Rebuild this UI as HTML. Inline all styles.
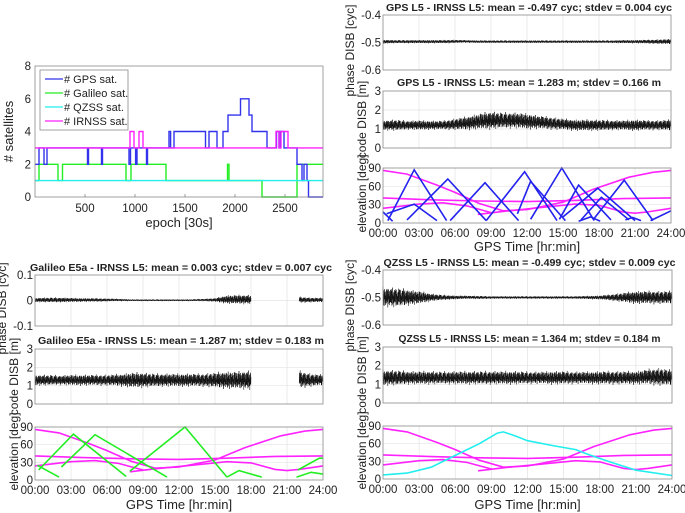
<!DOCTYPE html>
<html><head><meta charset="utf-8"><style>
html,body{margin:0;padding:0;background:#fff;}
svg{display:block;font-family:"Liberation Sans",Arial,sans-serif;}
</style></head><body>
<svg id="fig" width="685" height="513" viewBox="0 0 685 513" xmlns="http://www.w3.org/2000/svg"></svg>
<script>
// ---------- satellite count data (epoch, value) ----------
const epochTicks = [500,1000,1500,2000,2500];
const satTicks = [0,2,4,6,8];
const gpsSteps = [[0,2],[40,3],[90,2],[120,3],[525,2],[535,3],[665,2],[675,3],[940,2],[955,3],[1006,2],[1020,3],[1115,2],[1125,3],[1340,4],[1356,3],[1390,4],[1705,3],[1740,4],[1820,3],[1880,4],[1930,5],[2055,6],[2140,5],[2170,4],[2320,3],[2415,4],[2440,3],[2455,4],[2490,3],[2620,2],[2670,1],[2690,2],[2720,1],[2735,0]];
const galSteps = [[0,1],[40,2],[230,1],[275,2],[910,1],[960,2],[1310,1],[1925,2],[1940,1],[2270,0],[2620,2]];
const qzsSteps = [[0,1]];
const irnSteps = [[0,3],[950,4],[990,3],[1040,4],[1080,3],[2410,4],[2440,3],[2460,4],[2530,3]];

// ---------- DISB envelopes (hourly 0..24): centre and half-width; null = gap ----------
const hours = [0,1,2,3,4,5,6,7,8,9,10,11,12,13,14,15,16,17,18,19,20,21,22,23,24];
const gpsPhaseC = [-0.497,-0.497,-0.497,-0.497,-0.497,-0.497,-0.496,-0.496,-0.497,-0.497,-0.497,-0.497,-0.497,-0.497,-0.497,-0.497,-0.497,-0.497,-0.497,-0.497,-0.497,-0.497,-0.497,-0.497,-0.497];
const gpsPhaseW = [0.006,0.005,0.005,0.005,0.005,0.005,0.005,0.004,0.004,0.004,0.004,0.004,0.004,0.004,0.004,0.004,0.004,0.004,0.004,0.004,0.005,0.005,0.006,0.007,0.008];
const gpsCodeC = [1.2,1.2,1.2,1.2,1.2,1.2,1.25,1.3,1.4,1.45,1.45,1.45,1.4,1.35,1.3,1.25,1.2,1.2,1.2,1.2,1.2,1.2,1.2,1.2,1.2];
const gpsCodeW = [0.22,0.25,0.2,0.22,0.2,0.2,0.25,0.3,0.35,0.4,0.35,0.35,0.35,0.3,0.28,0.25,0.25,0.25,0.25,0.22,0.22,0.25,0.22,0.22,0.25];
const galPhaseC = [0.002,0.002,0.002,0.002,0.002,0.002,0.002,0.002,0.001,0.001,0.001,0.001,0.001,0.001,0.002,0.002,0.004,0.004,0.004,null,null,null,0.003,0.002,0.002];
const galPhaseW = [0.007,0.008,0.008,0.007,0.006,0.006,0.005,0.004,0.003,0.003,0.003,0.003,0.003,0.003,0.004,0.006,0.014,0.015,0.015,null,null,null,0.01,0.008,0.007];
const galCodeC = [1.3,1.3,1.3,1.3,1.3,1.3,1.3,1.3,1.3,1.3,1.3,1.3,1.3,1.3,1.3,1.3,1.3,1.3,1.3,null,null,null,1.35,1.3,1.3];
const galCodeW = [0.25,0.25,0.22,0.25,0.25,0.25,0.25,0.28,0.35,0.35,0.3,0.3,0.3,0.3,0.3,0.35,0.4,0.4,0.45,null,null,null,0.4,0.3,0.25];
const qzsPhaseC = [-0.498,-0.5,-0.5,-0.5,-0.5,-0.5,-0.5,-0.499,-0.5,-0.5,-0.5,-0.5,-0.5,-0.5,-0.5,-0.5,-0.5,-0.5,-0.5,-0.5,-0.5,-0.5,-0.5,-0.5,-0.5];
const qzsPhaseW = [0.03,0.03,0.025,0.02,0.012,0.008,0.006,0.005,0.005,0.004,0.004,0.004,0.004,0.004,0.004,0.004,0.004,0.005,0.006,0.01,0.015,0.02,0.02,0.02,0.02];
const qzsCodeC = [1.35,1.35,1.35,1.35,1.35,1.35,1.35,1.35,1.35,1.35,1.35,1.35,1.35,1.35,1.35,1.35,1.35,1.35,1.35,1.35,1.35,1.35,1.4,1.4,1.35];
const qzsCodeW = [0.35,0.35,0.3,0.3,0.3,0.28,0.3,0.3,0.3,0.3,0.3,0.3,0.28,0.28,0.3,0.3,0.28,0.28,0.3,0.3,0.3,0.3,0.35,0.4,0.35];

// ---------- elevation arcs [hour, deg] ----------
const timeTicks = [0,3,6,9,12,15,18,21,24];
const timeLabels = ["00:00","03:00","06:00","09:00","12:00","15:00","18:00","21:00","24:00"];
const elevTicks = [0,30,60,90];
const gpsArcs = [
 [[0,18],[0.8,3]],
 [[0.4,4],[2.6,87],[5.3,4]],
 [[0.3,15],[2.6,31],[4.5,4]],
 [[2.0,5],[5.4,72],[8.6,4]],
 [[5.6,4],[8.5,66],[11.3,4]],
 [[8.6,4],[11.8,84],[14.5,4]],
 [[11.2,15],[12.3,68],[15.2,4]],
 [[12.3,6],[14.9,90],[17.6,4]],
 [[14.7,6],[16.3,62],[19.0,5]],
 [[15.0,10],[17.9,57],[21.0,4]],
 [[16.5,5],[18.2,42],[20.5,5]],
 [[17.5,5],[20.1,70],[22.5,4]],
 [[16.3,3],[17.3,10],[18.1,3]],
 [[20.2,5],[20.8,9],[21.5,4]],
 [[22.3,4],[24,20]]
];
const galArcs = [
 [[0.3,17],[3.2,78],[7.6,6]],
 [[0.2,25],[2.0,5]],
 [[2.2,22],[5.0,77],[11.0,5]],
 [[7.9,15],[12.5,90],[16.0,5]],
 [[16.0,5],[17.0,16],[18.9,5]],
 [[21.9,17],[23.7,37],[24,37]],
 [[21.8,5],[23.0,13],[24,10]]
];
const qzsArcs = [
 [[0,7],[2,10],[4,20],[6,40],[8,60],[9.5,78],[10,80],[11,73],[12,65],[14,57],[16,50],[17,42],[19,28],[21,15],[24,6]]
];
const irnArcs = [
 [[0,86],[2,80],[4.5,62],[6,50],[8,32],[10,20],[12,22],[15,34],[17.5,55],[20.5,75],[22.5,83],[24,86]],
 [[0,41],[4,38],[8,36],[12,35],[16,37],[20,40],[24,41]],
 [[0,24],[3,31],[5,33],[7,28],[9,17]],
 [[7.9,14],[10,19],[13,25],[16,31],[18,29],[20,18],[21,16],[22,18],[24,24]]
];

// ---------- helpers ----------
const NS = "http://www.w3.org/2000/svg";
const fig = document.getElementById("fig");
const TICK = 11;
function el(tag, attrs, parent){
  const e = document.createElementNS(NS, tag);
  for (const k in attrs) e.setAttribute(k, attrs[k]);
  (parent||fig).appendChild(e);
  return e;
}
function txt(x,y,s,size,anchor,weight,rot){
  const t = el("text",{x:x,y:y,"font-size":size,"text-anchor":anchor||"middle","fill":"#222"});
  if(weight) t.setAttribute("font-weight",weight);
  if(rot) t.setAttribute("transform","rotate(-90 "+x+" "+y+")");
  t.textContent = s;
  return t;
}
function scale(d0,d1,r0,r1){ return v => r0 + (v-d0)/(d1-d0)*(r1-r0); }
function frame(x0,y0,x1,y1,name){
  const r = el("rect",{x:x0,y:y0,width:x1-x0,height:y1-y0,fill:"none",stroke:"#8a8a8a","stroke-width":0.8});
  
  
}
function timeGrid(x0,y0,x1,y1,yvals,ys,xs){
  const g = el("g",{stroke:"#e3e3e3","stroke-width":0.7});
  
  
  timeTicks.forEach(h=>{ if(h>0&&h<24) el("line",{x1:xs(h),x2:xs(h),y1:y0,y2:y1},g); });
  yvals.forEach(v=>{ const y=ys(v); if(y>y0+1&&y<y1-1) el("line",{x1:x0,x2:x1,y1:y,y2:y},g); });
}
function yTickLabels(x0,yvals,ys,labels){
  yvals.forEach((v,i)=>{
    const t = txt(x0-2, ys(v)+4, labels?labels[i]:String(v), TICK+0.5, "end");
    
    
  });
}
const jitter=[1,-0.55,0.8,-1,0.35,-0.85,0.95,-0.25,0.6,-0.7,0.15,-0.95,0.7,-0.45,0.9,-0.6,0.3];
function noise(xs,ys,C,W,name){
  let d=""; let pen=false; let i=0;
  for(let t=0;t<=24.0001;t+=0.02){
    const k=Math.min(23,Math.floor(t)); const f=t-k;
    const c0=C[k],c1=C[k+1],w0=W[k],w1=W[k+1];
    if(c0===null||c1===null){ pen=false; i++; continue; }
    const c=c0+(c1-c0)*f, w=w0+(w1-w0)*f;
    const m=jitter[i%17]*(i%5===0?1.25:1);
    const y=ys(c+w*m);
    d += (pen?"L":"M")+xs(t).toFixed(1)+","+y.toFixed(1);
    pen=true; i++;
  }
  const p = el("path",{d:d,fill:"none",stroke:"#111","stroke-width":0.5});
  
  
}
function arcs(xs,ys,list,color,name){
  list.forEach(a=>{
    const p = el("polyline",{points:a.map(q=>xs(q[0]).toFixed(1)+","+ys(q[1]).toFixed(1)).join(" "),fill:"none",stroke:color,"stroke-width":1.6});
    
    
  });
}
function timePanel(X0,X1,P,titleP,titleC,phC,phW,phT,phL,coC,coW,arcSets,ticksY,xlabY,tw1,tw2){
  const xs = scale(0,24,X0,X1);
  let ys = scale(phT[0],phT[2],P[1],P[0]);
  timeGrid(X0,P[0],X1,P[1],phT,ys,xs);
  noise(xs,ys,phC,phW,'phase-disb-series');
  frame(X0,P[0],X1,P[1],'phase-disb-axes');
  yTickLabels(X0,phT,ys,phL);
  let t = txt((X0+X1)/2+2,P[0]-4,titleP,10.5,"middle","bold");
  t.setAttribute("textLength",tw1); t.setAttribute("lengthAdjust","spacingAndGlyphs");
  
  
  t = txt(X0-29,(P[0]+P[1])/2+8,"phase DISB [cyc]",12,"middle",null,true);
  
  
  const codeT=[0,1,2,3];
  ys = scale(0,3,P[3],P[2]);
  timeGrid(X0,P[2],X1,P[3],codeT,ys,xs);
  noise(xs,ys,coC,coW,'code-disb-series');
  frame(X0,P[2],X1,P[3],'code-disb-axes');
  yTickLabels(X0,codeT,ys);
  t = txt((X0+X1)/2+2,P[2]-5,titleC,10.5,"middle","bold");
  t.setAttribute("textLength",tw2); t.setAttribute("lengthAdjust","spacingAndGlyphs");
  
  
  t = txt(X0-17,(P[2]+P[3])/2,"code DISB [m]",12,"middle",null,true);
  
  
  ys = scale(0,90,P[5],P[4]);
  timeGrid(X0,P[4],X1,P[5],elevTicks,ys,xs);
  arcSets.forEach(s=>arcs(xs,ys,s[0],s[1],s[2]));
  frame(X0,P[4],X1,P[5],'elevation-axes');
  yTickLabels(X0,elevTicks,ys);
  t = txt(X0-17,(P[4]+P[5])/2-2,"elevation [deg]",12,"middle",null,true);
  
  
  timeTicks.forEach((h,i)=>{
    const l = txt(xs(h),ticksY,timeLabels[i],TICK+0.5,"middle");
    
    
  });
  t = txt((X0+X1)/2,xlabY,"GPS Time [hr:min]",13,"middle");
  
  
}

// ---------- satellite count panel ----------
(function(){
  const X0=35,X1=323,Y0=66,Y1=197;
  const xs=scale(0,2880,X0,X1), ys=scale(0,8,Y1,Y0);
  function steps(arr,color,name){
    let d="";
    arr.forEach((s,i)=>{
      const xa=xs(s[0]), xb=xs(i+1<arr.length?arr[i+1][0]:2880), y=ys(s[1]);
      d += (i===0?"M":"L")+xa.toFixed(1)+","+y.toFixed(1)+"L"+xb.toFixed(1)+","+y.toFixed(1);
    });
    const p=el("path",{d:d,fill:"none",stroke:color,"stroke-width":1.4});
    
    
  }
  steps(galSteps,"#22ee22",'galileo-count-line');
  steps(gpsSteps,"#3333ee",'gps-count-line');
  steps(qzsSteps,"#22eeee",'qzss-count-line');
  steps(irnSteps,"#ff22ff",'irnss-count-line');
  frame(X0,Y0,X1,Y1,'satellite-count-axes');
  satTicks.forEach(v=>{
    const t=txt(X0-4,ys(v)+4,String(v),TICK+0.5,"end");
    
    
  });
  epochTicks.forEach(v=>{
    el("line",{x1:xs(v),x2:xs(v),y1:Y1,y2:Y1-3,stroke:"#777","stroke-width":0.7});
    const t=txt(xs(v),Y1+15,String(v),TICK+0.5,"middle");
    
    
  });
  let t=txt((X0+X1)/2,Y1+30,"epoch [30s]",13,"middle");
  
  
  t=txt(13,(Y0+Y1)/2,"# satellites",13,"middle",null,true);
  
  
  const lg=el("g",{});
  
  
  el("rect",{x:40,y:70,width:88,height:60,fill:"#fff",stroke:"#8a8a8a","stroke-width":0.8},lg);
  const names=["# GPS sat.","# Galileo sat.","# QZSS sat.","# IRNSS sat."];
  const cols=["#3333ee","#22ee22","#22eeee","#ff22ff"];
  names.forEach((n,i)=>{
    const y=79+i*14;
    const ln=el("line",{x1:45,x2:63,y1:y,y2:y,stroke:cols[i],"stroke-width":1.2},lg);
    
    
    const tt=el("text",{x:64,y:y+4,"font-size":11,fill:"#222"},lg);
    tt.textContent=n;
    
    
  });
})();

// ---------- DISB panels ----------
timePanel(383,671,[15,70,91,148,168,223],
  "GPS L5 - IRNSS L5: mean = -0.497 cyc; stdev = 0.004 cyc",
  "GPS L5 - IRNSS L5: mean = 1.283 m; stdev = 0.166 m",
  gpsPhaseC,gpsPhaseW,[-0.6,-0.5,-0.4],["-0.6","-0.5","-0.4"],gpsCodeC,gpsCodeW,
  [[irnArcs,"#ff22ff",'irnss-elevation-arc'],[gpsArcs,"#2222ee",'gps-elevation-arc']],237,251,286,264);
timePanel(35,323,[275,326,349,404,427,480],
  "Galileo E5a - IRNSS L5: mean = 0.003 cyc; stdev = 0.007 cyc",
  "Galileo E5a - IRNSS L5: mean = 1.287 m; stdev = 0.183 m",
  galPhaseC,galPhaseW,[-0.1,0,0.1],["-0.1","0","0.1"],galCodeC,galCodeW,
  [[irnArcs,"#ff22ff",'irnss-elevation-arc'],[galArcs,"#22ee22",'galileo-elevation-arc']],494,509,302,286);
timePanel(383,672,[270,325,347,403,426,479],
  "QZSS L5 - IRNSS L5: mean = -0.499 cyc; stdev = 0.009 cyc",
  "QZSS L5 - IRNSS L5: mean = 1.364 m; stdev = 0.184 m",
  qzsPhaseC,qzsPhaseW,[-0.6,-0.5,-0.4],["-0.6","-0.5","-0.4"],qzsCodeC,qzsCodeW,
  [[irnArcs,"#ff22ff",'irnss-elevation-arc'],[qzsArcs,"#22eeee",'qzss-elevation-arc']],493,509,292,262);
</script>
</body></html>
